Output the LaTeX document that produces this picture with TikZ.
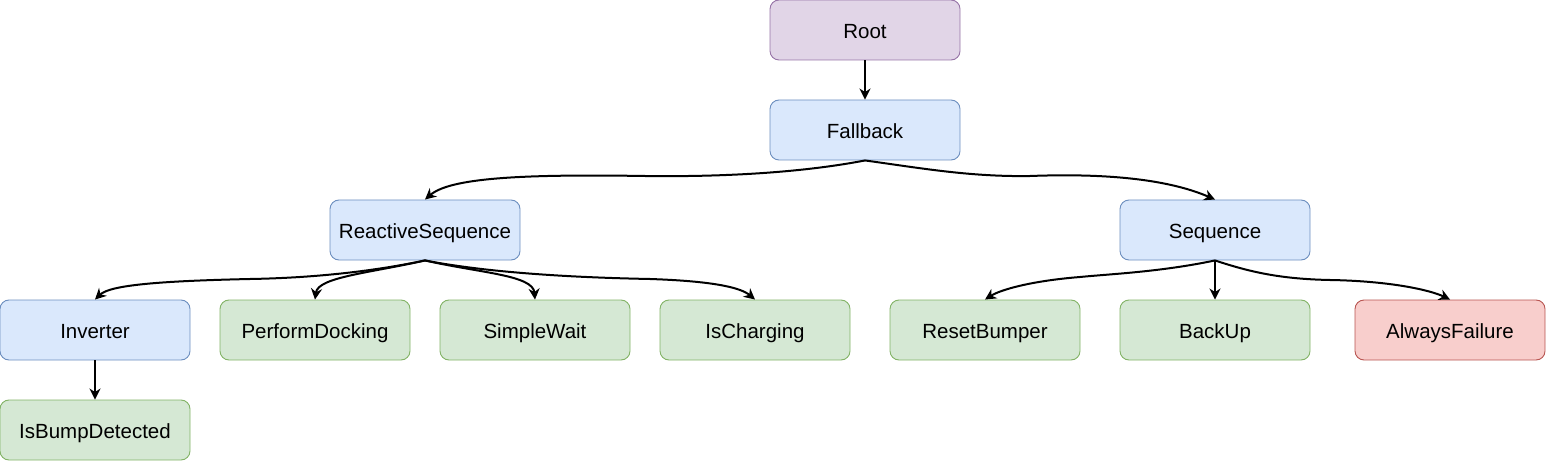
\documentclass[tikz,border=0pt]{standalone}
\usepackage{fontspec}
\setmainfont{Liberation Sans}
\usetikzlibrary{arrows.meta}
\definecolor{purpfill}{HTML}{E1D5E7}\definecolor{purpline}{HTML}{9673A6}
\definecolor{bluefill}{HTML}{DAE8FC}\definecolor{blueline}{HTML}{6C8EBF}
\definecolor{greenfill}{HTML}{D5E8D4}\definecolor{greenline}{HTML}{82B366}
\definecolor{redfill}{HTML}{F8CECC}\definecolor{redline}{HTML}{B85450}
\tikzset{
  box/.style={rectangle, rounded corners=9pt, minimum width=190pt, minimum height=60pt,
    inner sep=0pt, line width=0.9pt, text height=16.6pt, text depth=0pt,
    font=\fontsize{20.5pt}{24pt}\selectfont},
  purpbox/.style={box, fill=purpfill, draw=purpline},
  bluebox/.style={box, fill=bluefill, draw=blueline},
  greenbox/.style={box, fill=greenfill, draw=greenline},
  redbox/.style={box, fill=redfill, draw=redline},
  edge/.style={line width=2pt, -{Stealth[length=11pt,width=11pt,inset=3.5pt]}},
}
\begin{document}
\begin{tikzpicture}[x=1pt,y=-1pt]
\useasboundingbox (0,0) rectangle (1546,462);
\node[purpbox] (root) at (865,30) {Root};
\node[bluebox] (fb) at (865,130) {Fallback};
\node[bluebox] (rs) at (425,230) {ReactiveSequence};
\node[bluebox] (seq) at (1215,230) {Sequence};
\node[bluebox] (inv) at (95,330) {Inverter};
\node[greenbox] (pd) at (315,330) {PerformDocking};
\node[greenbox] (sw) at (535,330) {SimpleWait};
\node[greenbox] (ic) at (755,330) {IsCharging};
\node[greenbox] (rb) at (985,330) {ResetBumper};
\node[greenbox] (bu) at (1215,330) {BackUp};
\node[redbox] (af) at (1450,330) {AlwaysFailure};
\node[greenbox] (ibd) at (95,430) {IsBumpDetected};

\draw[edge] (root.south) -- (fb.north);
\draw[edge] (fb.south) .. controls (800,173) and (720,177) .. (645,176)
  .. controls (520,174) and (450,178) .. (rs.north);
\draw[edge] (fb.south) .. controls (920,168) and (970,177) .. (1030,176)
  .. controls (1110,173) and (1170,180) .. (seq.north);
\draw[edge] (rs.south) .. controls (370,272) and (310,278) .. (250,279)
  .. controls (160,281) and (110,285) .. (inv.north);
\draw[edge] (rs.south) .. controls (370,273) and (318,277) .. (pd.north);
\draw[edge] (rs.south) .. controls (480,273) and (533,275) .. (sw.north);
\draw[edge] (rs.south) .. controls (500,275) and (600,278) .. (650,279)
  .. controls (710,281) and (740,287) .. (ic.north);
\draw[edge] (seq.south) .. controls (1160,272) and (1110,274) .. (1080,277)
  .. controls (1030,281) and (1000,290) .. (rb.north);
\draw[edge] (seq.south) -- (bu.north);
\draw[edge] (seq.south) .. controls (1250,272) and (1280,279) .. (1330,280)
  .. controls (1390,281) and (1430,290) .. (af.north);
\draw[edge] (inv.south) -- (ibd.north);
\end{tikzpicture}
\end{document}
